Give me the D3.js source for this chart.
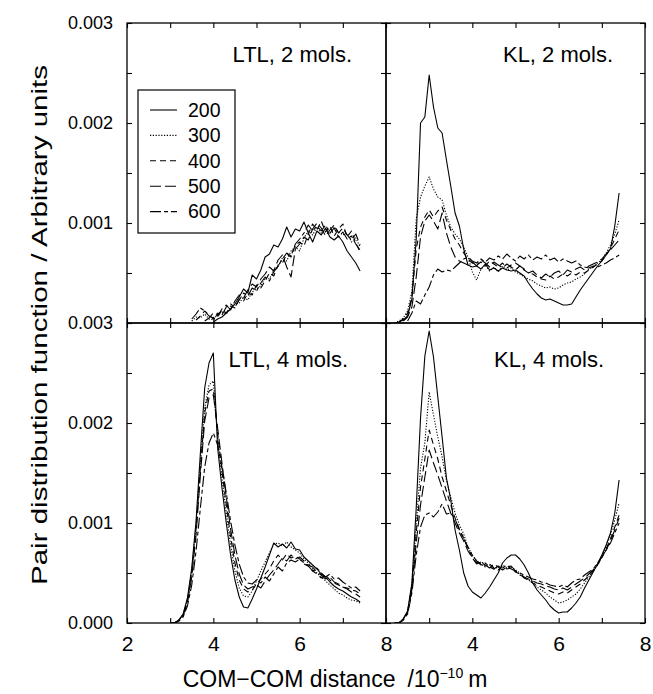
<!DOCTYPE html>
<html>
<head>
<meta charset="utf-8">
<script src="https://cdn.jsdelivr.net/npm/d3@7"></script>
<style>
  body { margin: 0; background: #fff; }
  svg text { font-family: "Liberation Sans", Arial, Helvetica, sans-serif; fill: #000; }
</style>
</head>
<body>
<svg id="chart" width="653" height="694"></svg>
<script>
// values in units of 1e-4 (arbitrary units), sampled every 0.1 Angstrom
const temps = ['200', '300', '400', '500', '600']
const xStep = 0.1

// LTL, 2 mols. -- x from 3.5 to 7.4
const ltl2Start = 3.5
const ltl2_200 = [null, null, null, null, null, 0.1, 0.4, 0.6, 1.0, 1.4, 1.9, 2.6, 3.4, 3.0, 4.8, 4.4, 5.3, 6.6, 6.9, 7.8, 7.6, 8.4, 9.6, 8.6, 9.4, 9.2, 10.1, 9.0, 8.1, 9.2, 8.8, 9.5, 8.6, 8.3, 8.7, 8.1, 7.2, 6.6, 6.0, 5.2]
const ltl2_300 = [0.2, 0.6, 0.5, 0.9, 0.4, 0.3, 0.9, 1.1, 0.9, 1.5, 1.9, 2.0, 2.6, 2.3, 3.1, 3.4, 3.7, 4.5, 4.4, 5.3, 5.6, 6.5, 6.2, 7.2, 7.6, 7.2, 8.5, 9.2, 8.8, 9.6, 9.0, 9.4, 8.9, 9.6, 9.1, 8.8, 9.0, 8.1, 8.5, 7.6]
const ltl2_400 = [null, 0.3, 0.7, 1.2, 0.8, 0.4, 0.6, 1.3, 1.0, 1.7, 1.5, 2.4, 2.2, 3.0, 2.8, 3.8, 3.5, 4.2, 5.0, 4.7, 5.8, 6.0, 6.9, 6.6, 7.8, 8.1, 7.7, 8.9, 9.9, 9.3, 10.2, 9.1, 9.7, 8.7, 9.4, 9.9, 8.6, 9.2, 8.0, 7.1]
const ltl2_500 = [null, null, null, 0.2, 0.5, 1.0, 0.7, 1.4, 1.8, 1.3, 2.2, 2.8, 2.5, 3.3, 3.9, 3.6, 4.4, 4.9, 5.6, 5.2, 6.3, 6.8, 5.6, 4.6, 7.4, 7.9, 8.6, 8.3, 9.4, 10.0, 9.5, 8.7, 9.3, 9.8, 9.0, 9.5, 8.8, 8.3, 8.9, 7.8]
const ltl2_600 = [0.4, 0.9, 1.5, 1.2, 0.7, 0.5, 1.0, 0.8, 1.6, 1.9, 1.6, 2.3, 3.0, 2.7, 3.5, 3.2, 4.0, 4.6, 4.2, 5.1, 5.7, 6.4, 7.0, 6.7, 7.9, 8.4, 9.0, 9.8, 9.2, 9.7, 9.2, 9.8, 9.0, 9.5, 8.6, 9.1, 8.4, 8.7, 7.9, 7.3]

// KL, 2 mols. -- x from 2.2 to 7.4
const kl2Start = 2.2
const kl2_200 = [0.0, 0.1, 0.3, 0.7, 2.4, 8.4, 20.0, 20.6, 24.8, 21.6, 19.5, 19.0, 16.3, 13.7, 11.0, 9.7, 7.4, 5.8, 5.6, 5.7, 5.4, 5.9, 5.3, 5.5, 5.2, 5.5, 5.3, 5.2, 5.3, 5.0, 4.7, 4.0, 3.4, 2.9, 2.5, 2.3, 2.4, 2.2, 2.0, 1.8, 1.8, 1.9, 2.6, 3.3, 3.9, 4.5, 5.1, 5.7, 6.2, 6.8, 7.4, 9.7, 13.0]
const kl2_300 = [0.0, 0.2, 0.5, 1.2, 3.2, 10.4, 12.6, 13.7, 14.6, 13.4, 12.6, 12.3, 10.8, 9.6, 8.9, 8.4, 7.6, 6.6, 5.1, 4.3, 5.4, 5.8, 5.2, 5.6, 5.1, 5.7, 5.3, 5.5, 5.1, 4.9, 4.6, 4.4, 4.2, 3.9, 3.7, 3.5, 3.6, 3.4, 3.5, 3.8, 4.0, 4.1, 4.4, 4.6, 4.9, 5.4, 5.6, 6.0, 6.3, 7.0, 7.8, 8.9, 10.3]
const kl2_400 = [null, 0.1, 0.4, 1.0, 2.6, 7.4, 9.6, 10.6, 11.3, 10.6, 11.2, 11.6, 10.3, 9.3, 8.4, 7.8, 7.0, 6.4, 6.0, 5.8, 6.1, 5.7, 6.2, 5.9, 5.6, 6.0, 5.5, 5.8, 6.0, 5.7, 5.3, 5.0, 4.9, 4.6, 4.4, 4.3, 4.7, 4.4, 4.6, 4.9, 4.7, 5.0, 4.8, 5.1, 5.0, 5.3, 5.6, 5.9, 6.2, 6.8, 7.5, 8.4, 9.3]
const kl2_500 = [null, null, 0.2, 0.6, 1.6, 4.6, 8.6, 10.2, 10.8, 10.2, 9.4, 11.0, 9.0, 7.6, 6.6, 6.2, 6.0, 5.8, 6.1, 5.7, 6.3, 6.0, 5.6, 6.1, 5.8, 5.5, 5.9, 5.6, 5.3, 5.7, 5.4, 5.0, 5.2, 4.8, 4.5, 4.9, 4.6, 5.0, 5.2, 4.8, 5.3, 5.1, 5.4, 5.6, 5.3, 5.7, 5.9, 6.1, 6.4, 6.9, 7.3, 7.8, 8.3]
const kl2_600 = [null, null, null, 0.2, 1.0, 2.2, 1.9, 2.8, 3.6, 4.8, 5.4, 5.1, 5.3, 5.2, 5.6, 6.0, 6.4, 6.6, 6.2, 6.0, 6.4, 6.1, 6.5, 6.3, 6.7, 6.4, 6.9, 6.5, 6.2, 6.7, 6.4, 6.8, 6.3, 6.6, 6.4, 6.8, 6.3, 6.5, 6.1, 6.4, 6.2, 6.0, 6.2, 5.8, 5.6, 5.5, 5.7, 5.6, 5.8, 6.0, 6.3, 6.5, 6.8]

// LTL, 4 mols. -- x from 3.0 to 7.4
const ltl4Start = 3.0
const ltl4_200 = [0.0, 0.0, 0.3, 0.9, 2.5, 5.5, 10.2, 17.0, 23.5, 26.0, 27.0, 17.5, 13.5, 10.0, 6.8, 4.3, 2.6, 1.6, 1.5, 2.4, 3.4, 4.5, 5.6, 6.8, 8.0, 7.6, 7.9, 7.5, 8.1, 7.4, 7.3, 6.6, 6.2, 5.8, 5.4, 4.9, 4.6, 4.1, 3.7, 3.4, 3.2, 2.9, 2.6, 2.4, 2.1]
const ltl4_300 = [0.0, 0.0, 0.3, 0.8, 2.3, 5.2, 9.8, 16.0, 21.5, 23.8, 24.2, 18.5, 14.5, 11.0, 7.8, 5.2, 3.5, 2.7, 2.6, 3.2, 4.2, 5.2, 6.1, 7.0, 7.9, 8.0, 7.7, 8.1, 7.6, 7.3, 7.0, 6.4, 6.0, 5.4, 5.0, 4.6, 4.2, 3.8, 3.4, 3.0, 2.8, 2.5, 2.3, 2.2, 2.0]
const ltl4_400 = [0.0, 0.0, 0.3, 0.8, 2.2, 5.0, 9.4, 15.5, 21.0, 23.2, 23.4, 19.0, 15.2, 11.8, 8.6, 6.0, 4.3, 3.4, 3.1, 3.3, 3.9, 4.4, 4.9, 5.4, 6.2, 6.8, 6.3, 6.9, 6.5, 6.7, 6.4, 5.9, 5.7, 5.2, 4.9, 4.5, 4.8, 4.3, 4.0, 3.8, 3.6, 3.5, 3.3, 3.2, 2.9]
const ltl4_500 = [0.0, 0.0, 0.2, 0.7, 2.0, 4.6, 8.8, 14.8, 20.2, 22.5, 22.8, 19.5, 16.0, 12.6, 9.4, 6.8, 4.9, 3.8, 3.4, 3.6, 3.8, 3.5, 4.2, 4.8, 5.3, 5.9, 6.5, 6.2, 6.8, 6.4, 6.6, 6.2, 5.8, 5.6, 5.1, 4.8, 4.4, 4.6, 4.1, 3.9, 3.6, 3.4, 3.1, 2.9, 2.6]
const ltl4_600 = [0.0, 0.0, 0.2, 0.6, 1.7, 3.8, 7.2, 11.5, 15.6, 18.0, 19.0, 17.8, 15.6, 13.0, 10.2, 7.8, 5.9, 4.6, 4.0, 3.9, 4.3, 4.0, 4.6, 4.2, 4.9, 5.6, 5.2, 6.0, 6.3, 6.1, 6.4, 6.0, 5.7, 5.2, 5.5, 5.0, 4.6, 4.9, 4.4, 4.5, 4.1, 3.8, 3.5, 3.6, 3.2]

// KL, 4 mols. -- x from 2.2 to 7.4
const kl4Start = 2.2
const kl4_200 = [0.0, 0.0, 0.4, 1.2, 4.0, 11.5, 20.5, 26.7, 29.2, 26.6, 22.6, 18.6, 14.5, 12.3, 9.3, 7.3, 5.0, 3.7, 3.1, 2.8, 2.5, 3.0, 3.6, 4.3, 5.0, 6.0, 6.5, 6.8, 6.8, 6.4, 5.8, 5.0, 4.0, 3.3, 2.8, 2.3, 1.7, 1.3, 1.0, 1.1, 1.1, 1.5, 2.0, 2.6, 3.5, 4.3, 5.1, 5.9, 6.8, 7.8, 9.0, 11.0, 14.3]
const kl4_300 = [0.0, 0.0, 0.4, 1.2, 3.8, 9.8, 15.5, 18.0, 23.1, 20.8, 18.6, 16.6, 14.3, 12.6, 11.0, 9.8, 8.9, 7.6, 6.8, 6.2, 5.9, 5.6, 5.8, 5.4, 5.6, 5.8, 5.5, 5.6, 5.3, 5.0, 4.6, 4.3, 4.0, 3.6, 3.3, 3.0, 2.6, 2.3, 2.0, 2.1, 2.3, 2.6, 2.9, 3.4, 4.0, 4.6, 5.2, 5.8, 6.6, 7.6, 8.8, 10.3, 12.0]
const kl4_400 = [0.0, 0.0, 0.4, 1.1, 3.6, 9.0, 13.6, 16.4, 19.3, 17.8, 16.4, 14.6, 13.2, 11.8, 10.5, 9.4, 8.5, 7.4, 6.6, 6.0, 6.2, 5.7, 5.9, 5.5, 5.3, 5.7, 5.4, 5.5, 5.1, 4.9, 4.5, 4.3, 4.0, 3.8, 3.6, 3.4, 3.2, 3.0, 2.9, 3.1, 3.0, 3.3, 3.6, 3.9, 4.3, 4.7, 5.2, 5.8, 6.5, 7.4, 8.4, 9.6, 10.8]
const kl4_500 = [0.0, 0.0, 0.3, 1.0, 3.3, 8.0, 11.8, 14.6, 17.3, 16.0, 14.8, 13.5, 12.2, 11.0, 10.0, 9.0, 8.2, 7.2, 6.5, 5.9, 6.1, 5.8, 5.5, 5.9, 5.6, 5.3, 5.6, 5.7, 5.2, 4.8, 4.6, 4.4, 4.2, 4.0, 3.9, 3.7, 3.6, 3.4, 3.3, 3.5, 3.3, 3.6, 3.9, 4.2, 4.5, 4.9, 5.3, 5.9, 6.6, 7.3, 8.2, 9.3, 10.5]
const kl4_600 = [0.0, 0.0, 0.3, 0.9, 3.0, 6.8, 9.6, 10.8, 11.0, 10.6, 11.1, 11.9, 10.9, 11.0, 10.4, 9.3, 8.4, 7.6, 6.8, 6.2, 5.8, 6.0, 5.6, 5.4, 5.7, 5.5, 5.8, 5.4, 5.2, 5.0, 4.8, 4.6, 4.4, 4.3, 4.1, 4.0, 3.8, 3.7, 3.6, 3.8, 3.6, 4.0, 4.3, 4.4, 4.8, 5.1, 5.4, 6.0, 6.6, 7.3, 8.0, 9.0, 10.0]

const panelTitles = ['LTL, 2 mols.', 'KL, 2 mols.', 'LTL, 4 mols.', 'KL, 4 mols.']
const yTickLabelsTop = [10, 20, 30]
const yTickLabelsBottom = [0, 10, 20, 30]
const xTickLabelsLeft = [2, 4, 6, 8]
const xTickLabelsRight = [4, 6, 8]

// ---- layout
const marginLeft = 127
const marginTop = 23
const panelW = 259
const panelH = 300

const dashes = {
  '200': null,
  '300': '1.2,1.6',
  '400': '6,4',
  '500': '11,4',
  '600': '11,3,4,3',
}

const panels = [
  {title: panelTitles[0], col: 0, row: 0, start: ltl2Start, series: [ltl2_200, ltl2_300, ltl2_400, ltl2_500, ltl2_600], titleX: 225, titleY: 39, yLabels: yTickLabelsTop, xLabels: null},
  {title: panelTitles[1], col: 1, row: 0, start: kl2Start, series: [kl2_200, kl2_300, kl2_400, kl2_500, kl2_600], titleX: 227, titleY: 39, yLabels: null, xLabels: null},
  {title: panelTitles[2], col: 0, row: 1, start: ltl4Start, series: [ltl4_200, ltl4_300, ltl4_400, ltl4_500, ltl4_600], titleX: 221, titleY: 44, yLabels: yTickLabelsBottom, xLabels: xTickLabelsLeft},
  {title: panelTitles[3], col: 1, row: 1, start: kl4Start, series: [kl4_200, kl4_300, kl4_400, kl4_500, kl4_600], titleX: 218, titleY: 44, yLabels: null, xLabels: xTickLabelsRight},
]

const svg = d3.select('#chart')

const x = d3.scaleLinear().domain([2, 8]).range([0, panelW])
const y = d3.scaleLinear().domain([0, 30]).range([panelH, 0])
const fmtY = (v) => d3.format('.3f')(v / 10000)

panels.forEach((p) => {
  const g = svg.append('g')
    .attr('transform', `translate(${marginLeft + p.col * panelW}, ${marginTop + p.row * panelH})`)

  // inward ticks on all four sides
  const xt = d3.range(2, 9, 1)
  const yt = d3.range(0, 31, 5)
  const tickAxes = [
    [d3.axisBottom(x).tickValues(xt), `translate(0, ${panelH})`],
    [d3.axisTop(x).tickValues(xt), 'translate(0, 0)'],
    [d3.axisLeft(y).tickValues(yt), 'translate(0, 0)'],
    [d3.axisRight(y).tickValues(yt), `translate(${panelW}, 0)`],
  ]
  tickAxes.forEach(([axis, tr]) => {
    const a = g.append('g')
      .attr('transform', tr)
      .call(axis.tickSize(-5).tickFormat(''))
    a.select('.domain').remove()
    a.selectAll('line').attr('stroke', '#000').attr('stroke-width', 1.1)
  })

  if (p.yLabels) {
    const a = g.append('g')
      .call(d3.axisLeft(y).tickValues(p.yLabels).tickSize(0).tickPadding(14).tickFormat(fmtY))
    a.select('.domain').remove()
    a.selectAll('text').attr('font-size', 18).attr('font-family', '"Liberation Sans", Arial, sans-serif')
  }
  if (p.xLabels) {
    const a = g.append('g')
      .attr('transform', `translate(0, ${panelH})`)
      .call(d3.axisBottom(x).tickValues(p.xLabels).tickSize(0).tickPadding(13).tickFormat(d3.format('d')))
    a.select('.domain').remove()
    a.selectAll('text').attr('font-size', 21).attr('font-family', '"Liberation Sans", Arial, sans-serif')
  }

  // curves
  const clipId = 'clip' + p.col + p.row
  g.append('clipPath').attr('id', clipId)
    .append('rect').attr('width', panelW).attr('height', panelH)

  const line = d3.line()
    .defined((d) => d != null)
    .x((d, i) => x(p.start + i * xStep))
    .y((d) => y(d))

  p.series.forEach((vals, k) => {
    g.append('path')
      .datum(vals)
      .attr('clip-path', `url(#${clipId})`)
      .attr('fill', 'none')
      .attr('stroke', '#000')
      .attr('stroke-width', 1.1)
      .attr('stroke-linejoin', 'round')
      .attr('stroke-dasharray', dashes[temps[k]])
      .attr('d', line)
  })

  g.append('text')
    .attr('x', p.titleX)
    .attr('y', p.titleY)
    .attr('text-anchor', 'end')
    .attr('font-size', 22)
    .text(p.title)

  // frame
  g.append('rect')
    .attr('width', panelW)
    .attr('height', panelH)
    .attr('fill', 'none')
    .attr('stroke', '#000')
    .attr('stroke-width', 1.3)
})

// legend in first panel
const lg = svg.append('g').attr('transform', `translate(${marginLeft + 11}, ${marginTop + 67})`)
lg.append('rect')
  .attr('width', 97)
  .attr('height', 143)
  .attr('fill', '#fff')
  .attr('stroke', '#000')
  .attr('stroke-width', 1.2)
temps.forEach((t, i) => {
  const yy = 20 + i * 25.4
  lg.append('line')
    .attr('x1', 12).attr('x2', 39)
    .attr('y1', yy).attr('y2', yy)
    .attr('stroke', '#000')
    .attr('stroke-width', 1.1)
    .attr('stroke-dasharray', dashes[t])
  lg.append('text')
    .attr('x', 50)
    .attr('y', yy)
    .attr('dy', '0.35em')
    .attr('font-size', 19.5)
    .text(t)
})

// axis titles
svg.append('text')
  .attr('transform', `translate(47, 325) rotate(-90)`)
  .attr('text-anchor', 'middle')
  .attr('font-size', 22)
  .attr('textLength', 520)
  .attr('lengthAdjust', 'spacingAndGlyphs')
  .text('Pair distribution function / Arbitrary units')

const xl = svg.append('text')
  .attr('x', 335)
  .attr('y', 687)
  .attr('text-anchor', 'middle')
  .attr('font-size', 23)
xl.append('tspan').text('COM\u2212COM distance')
xl.append('tspan').attr('dx', 12).text('/10')
xl.append('tspan').attr('dy', -9).attr('font-size', 14).text('\u221210')
xl.append('tspan').attr('dy', 9).attr('dx', 5).text('m')
</script>
</body>
</html>
